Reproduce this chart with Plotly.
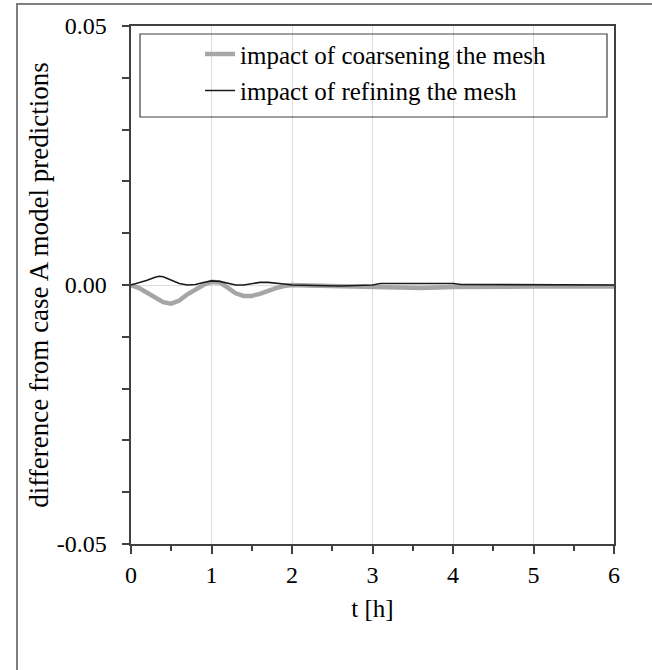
import plotly.graph_objects as go

# time [h]
t_refine = [0, 0.1, 0.2, 0.3, 0.35, 0.4, 0.5, 0.6, 0.7, 0.8, 0.9, 1.0, 1.1, 1.2, 1.3, 1.4,
            1.5, 1.6, 1.7, 1.8, 1.9, 2.0, 2.2, 2.4, 2.6, 2.8, 3.0, 3.1, 3.5, 4.0, 4.1, 4.5,
            4.9, 5.0, 6.0]
refine = [0, 0.0004, 0.0009, 0.0015, 0.0017, 0.0016, 0.0009, 0.0003, 0.0, 0.0001, 0.0005,
          0.0008, 0.0007, 0.0003, 0.0, 0.0, 0.0002, 0.0005, 0.0005, 0.0004, 0.0002, 0.0,
          -0.0001, -0.0002, -0.0002, -0.0001, 0.0, 0.0003, 0.0003, 0.0003, 0.0001, 0.0001,
          0.0001, 0.0, 0.0]

t_coarsen = [0, 0.1, 0.2, 0.3, 0.4, 0.5, 0.6, 0.7, 0.8, 0.9, 1.0, 1.1, 1.2, 1.3, 1.4, 1.5,
             1.6, 1.7, 1.8, 1.9, 2.0, 2.2, 2.5, 3.0, 3.2, 3.6, 4.0, 4.4, 5.0, 6.0]
coarsen = [0, -0.0006, -0.0015, -0.0025, -0.0033, -0.0036, -0.0030, -0.0018, -0.0008, 0.0,
           0.0006, 0.0005, -0.0005, -0.0016, -0.0021, -0.0021, -0.0017, -0.0011, -0.0006,
           -0.0002, 0.0, -0.0001, -0.0002, -0.0002, -0.0004, -0.0006, -0.0004, -0.0003,
           -0.0003, -0.0003]

x_ticks = [0, 1, 2, 3, 4, 5, 6]
y_ticks = [-0.05, 0.0, 0.05]
y_ticklabels = ["-0.05", "0.00", "0.05"]

FONT = "Liberation Serif"
TICK = dict(family=FONT, size=24, color="black")
PAD = "\u00a0\u2009"  # small gap between y labels and tick marks

fig = go.Figure()
fig.add_trace(go.Scatter(x=t_coarsen, y=coarsen, mode="lines",
                         name="impact of coarsening the mesh", legendgroup="a",
                         line=dict(color="#a6a6a6", width=4.5)))
fig.add_trace(go.Scatter(x=t_refine, y=refine, mode="lines",
                         name="impact of refining the mesh", legendgroup="b",
                         line=dict(color="#1a1a1a", width=1.6)))

fig.update_layout(
    width=652, height=670,
    margin=dict(l=131, r=38, t=26, b=126),
    paper_bgcolor="white", plot_bgcolor="white",
    font=dict(family=FONT, size=24, color="black"),
    showlegend=True,
    legend=dict(x=0.143, y=0.99, xanchor="left", yanchor="top",
                bgcolor="rgba(0,0,0,0)", borderwidth=0,
                font=dict(family=FONT, size=25, color="black"),
                tracegroupgap=1, traceorder="grouped"),
    shapes=[
        # legend box
        dict(type="rect", xref="paper", yref="paper",
             x0=(140 - 131) / 483, x1=(607 - 131) / 483,
             y0=(544 - 117) / 518, y1=(544 - 34) / 518,
             line=dict(color="#404040", width=1.2), layer="above"),
        # outer frame
        dict(type="rect", xref="paper", yref="paper",
             x0=(17 - 131) / 483, x1=(700 - 131) / 483,
             y0=(544 - 700) / 518, y1=(544 - 4) / 518,
             line=dict(color="#7f7f7f", width=2), layer="below"),
    ],
)

fig.update_xaxes(range=[0, 6], tickvals=x_ticks, ticktext=[str(v) for v in x_ticks],
                 showgrid=True, gridcolor="#dcdcdc", gridwidth=1,
                 zeroline=False,
                 showline=True, linecolor="#404040", linewidth=1.5, mirror=True,
                 ticks="outside", ticklen=8, tickcolor="#404040", tickwidth=1.5,
                 minor=dict(dtick=0.5, ticks="outside", ticklen=5, tickcolor="#404040",
                            showgrid=False),
                 tickfont=TICK,
                 title=dict(text="t [h]", font=dict(family=FONT, size=25, color="black"),
                            standoff=13))

fig.update_yaxes(range=[-0.05, 0.05], tickvals=y_ticks,
                 ticktext=[s + PAD for s in y_ticklabels],
                 showgrid=True, gridcolor="#dcdcdc", gridwidth=1,
                 zeroline=True, zerolinecolor="#dcdcdc", zerolinewidth=1,
                 showline=True, linecolor="#404040", linewidth=1.5, mirror=True,
                 ticks="outside", ticklen=7, tickcolor="#404040", tickwidth=1.5,
                 minor=dict(dtick=0.01, ticks="outside", ticklen=7, tickcolor="#404040",
                            showgrid=False),
                 tickfont=TICK,
                 title=dict(text="difference from case A model predictions",
                            font=dict(family=FONT, size=27, color="black"), standoff=0))

fig.write_html("out.html",
               config={"displayModeBar": False},
               post_script="document.body.style.margin='0';"
                           "document.body.style.overflow='hidden';")
